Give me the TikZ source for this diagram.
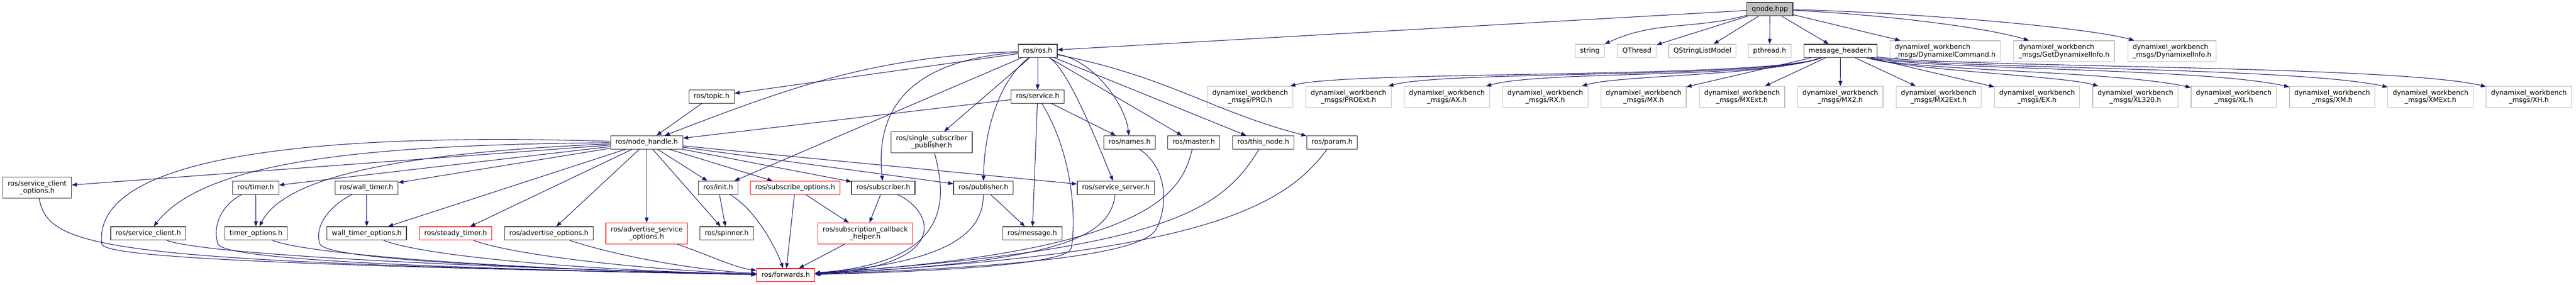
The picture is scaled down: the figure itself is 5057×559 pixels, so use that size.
\documentclass[tikz,border=0pt]{standalone}
\usepackage{fontspec}
\setmainfont{DejaVu Sans}
\usetikzlibrary{arrows.meta}
\definecolor{edgeblue}{HTML}{191970}
\definecolor{extgray}{HTML}{BFBFBF}
\begin{document}
\begin{tikzpicture}[x=1pt,y=1pt]
    \tikzstyle{file}=[rectangle, line width=1.2pt, inner xsep=9.5pt, inner ysep=0pt, minimum height=26pt, font=\fontsize{13.3pt}{14.6pt}\selectfont]
    \tikzstyle{oneline}=[text height=9.8pt, text depth=3.2pt]
    \tikzstyle{twoline}=[align=center, minimum height=41pt]
    \tikzstyle{doc}=[file, draw=black!80]
    \tikzstyle{ext}=[file, draw=extgray]
    \tikzstyle{trunc}=[file, draw=red]
    \tikzstyle{inc}=[draw=edgeblue, line width=1.1pt, -{Triangle[length=10pt,width=7.5pt]}]
    \useasboundingbox (0,0) rectangle (5057,559);

    % the file itself
    \node[doc,oneline,fill=extgray] (qnode) at (3474.5,541) {qnode.hpp};

    % direct includes
    \node[doc,oneline] (ros) at (2037,459) {ros/ros.h};
    \node[ext,oneline] (str) at (3121,459) {string};
    \node[ext,oneline] (qthr) at (3213.5,459) {QThread};
    \node[ext,oneline] (qslm) at (3342,459) {QStringListModel};
    \node[ext,oneline] (pthr) at (3474,459) {pthread.h};
    \node[doc,oneline] (mh) at (3613,459) {message\_header.h};
    \node[ext,twoline,align=left] (dcmd) at (3818.5,458.5) {dynamixel\_workbench\\\_msgs/DynamixelCommand.h};
    \node[ext,twoline,align=left] (gdi) at (4052,458.5) {dynamixel\_workbench\\\_msgs/GetDynamixelInfo.h};
    \node[ext,twoline,align=left] (dinfo) at (4264,458.5) {dynamixel\_workbench\\\_msgs/DynamixelInfo.h};

    % second level
    \node[doc,oneline] (topic) at (1397,369.5) {ros/topic.h};
    \node[doc,oneline] (srv) at (2037,369.5) {ros/service.h};
    \foreach \m [count=\i from 0] in {PRO,PROExt,AX,RX,MX,MXExt,MX2,MX2Ext,EX,XL320,XL,XM,XMExt,XH}
        \node[ext,twoline] (m\m) at ({2454.2+193.1*\i},369) {dynamixel\_workbench\\\_msgs/\m.h};

    % third level
    \node[doc,oneline] (nh) at (1269.5,279.5) {ros/node\_handle.h};
    \node[doc,twoline] (ssp) at (1829,280) {ros/single\_subscriber\\\_publisher.h};
    \node[doc,oneline] (names) at (2217.5,279.5) {ros/names.h};
    \node[doc,oneline] (master) at (2343.5,279.5) {ros/master.h};
    \node[doc,oneline] (thisnode) at (2480,279.5) {ros/this\_node.h};
    \node[doc,oneline] (param) at (2615,279.5) {ros/param.h};

    % fourth level
    \node[doc,twoline] (sco) at (73,191) {ros/service\_client\\\_options.h};
    \node[doc,oneline] (timer) at (502,190.5) {ros/timer.h};
    \node[doc,oneline] (wtimer) at (719.5,190.5) {ros/wall\_timer.h};
    \node[doc,oneline] (init) at (1410,190.5) {ros/init.h};
    \node[trunc,oneline] (subopt) at (1561,190.5) {ros/subscribe\_options.h};
    \node[doc,oneline] (sub) at (1734,190.5) {ros/subscriber.h};
    \node[doc,oneline] (pub) at (1930.5,190.5) {ros/publisher.h};
    \node[doc,oneline] (ssrv) at (2190.5,190.5) {ros/service\_server.h};

    % fifth level
    \node[doc,oneline] (sc) at (291,101) {ros/service\_client.h};
    \node[doc,oneline] (topt) at (502.5,101) {timer\_options.h};
    \node[doc,oneline] (wtopt) at (720,101) {wall\_timer\_options.h};
    \node[trunc,oneline] (stimer) at (894.5,101) {ros/steady\_timer.h};
    \node[doc,oneline] (aopt) at (1077.5,101) {ros/advertise\_options.h};
    \node[trunc,twoline] (asopt) at (1269.5,101) {ros/advertise\_service\\\_options.h};
    \node[doc,oneline] (spin) at (1426.5,101) {ros/spinner.h};
    \node[trunc,twoline] (sch) at (1698.5,101) {ros/subscription\_callback\\\_helper.h};
    \node[doc,oneline] (msg) at (2026.5,101) {ros/message.h};

    % bottom
    \node[trunc,oneline] (fwd) at (1542.5,19) {ros/forwards.h};

    % qnode.hpp
    \draw[inc] (qnode) -- (ros);
    \draw[inc] (qnode) .. controls (3321,500) and (3250,519) .. (str);
    \draw[inc] (qnode) -- (qthr);
    \draw[inc] (qnode) -- (qslm);
    \draw[inc] (qnode) -- (pthr);
    \draw[inc] (qnode) -- (mh);
    \draw[inc] (qnode) -- (dcmd);
    \draw[inc] (qnode) .. controls (3700,530) and (3900,505) .. (gdi);
    \draw[inc] (qnode) .. controls (3750,535) and (4100,505) .. (dinfo);

    % message_header.h
    \draw[inc] (mh) .. controls (3461,404) and (2648,421) .. (mPRO);
    \draw[inc] (mh) .. controls (3461,404) and (2840,421) .. (mPROExt);
    \draw[inc] (mh) .. controls (3461,404) and (3030,421) .. (mAX);
    \draw[inc] (mh) .. controls (3470,410) and (3180,412) .. (mRX);
    \foreach \m in {MX,MXExt,MX2,MX2Ext,EX}
        \draw[inc] (mh) -- (m\m);
    \draw[inc] (mh) .. controls (3760,420) and (4050,410) .. (mXL320);
    \draw[inc] (mh) .. controls (3760,420) and (4150,420) .. (mXL);
    \draw[inc] (mh) .. controls (3780,422) and (4330,426) .. (mXM);
    \draw[inc] (mh) .. controls (3800,424) and (4510,428) .. (mXMExt);
    \draw[inc] (mh) .. controls (3820,426) and (4700,432) .. (mXH);

    % ros/ros.h
    \draw[inc] (ros) -- (topic);
    \draw[inc] (ros) .. controls (1718.6,447.8) and (1564,392.7) .. (nh);
    \draw[inc] (ros) -- (init);
    \draw[inc] (ros) .. controls (1780,440) and (1718,340) .. (sub);
    \draw[inc] (ros) -- (ssp);
    \draw[inc] (ros) .. controls (1960,400) and (1932,300) .. (pub);
    \draw[inc] (ros) -- (srv);
    \draw[inc] (ros) .. controls (2095,425) and (2150,290) .. (ssrv);
    \draw[inc] (ros) .. controls (2150,440) and (2210,350) .. (names);
    \draw[inc] (ros) -- (master);
    \draw[inc] (ros) -- (thisnode);
    \draw[inc] (ros) .. controls (2290,410) and (2380,340) .. (param);

    % ros/service.h and ros/topic.h
    \draw[inc] (srv) -- (nh);
    \draw[inc] (srv) -- (names);
    \draw[inc] (srv) -- (msg);
    \draw[inc] (srv) .. controls (2110,250) and (2112,120) .. (2103,72) .. controls (2095,35) and (1750,24) .. (fwd);
    \draw[inc] (topic) -- (nh);
    \draw[inc] (ssp) .. controls (1855,180) and (1880,45) .. (fwd);

    % ros/node_handle.h
    \draw[inc] (nh) -- (sco);
    \draw[inc] (nh) .. controls (700,275) and (400,240) .. (sc);
    \draw[inc] (nh) -- (timer);
    \draw[inc] (nh) .. controls (800,260) and (560,215) .. (topt);
    \draw[inc] (nh) -- (wtimer);
    \draw[inc] (nh) -- (wtopt);
    \draw[inc] (nh) -- (stimer);
    \draw[inc] (nh) -- (aopt);
    \draw[inc] (nh) -- (asopt);
    \draw[inc] (nh) -- (spin);
    \draw[inc] (nh) -- (init);
    \draw[inc] (nh) -- (subopt);
    \draw[inc] (nh) -- (sub);
    \draw[inc] (nh) -- (pub);
    \draw[inc] (nh) -- (ssrv);
    \draw[inc] (nh) .. controls (600,300) and (180,250) .. (200,80) .. controls (205,60) and (400,40) .. (fwd);

    % fourth level
    \draw[inc] (timer) -- (topt);
    \draw[inc] (timer) .. controls (440,160) and (415,120) .. (428,80) .. controls (440,55) and (700,35) .. (fwd);
    \draw[inc] (wtimer) -- (wtopt);
    \draw[inc] (wtimer) .. controls (655,160) and (615,120) .. (628,80) .. controls (640,55) and (900,35) .. (fwd);
    \draw[inc] (init) -- (spin);
    \draw[inc] (init) .. controls (1480,150) and (1520,80) .. (fwd);
    \draw[inc] (subopt) -- (sch);
    \draw[inc] (subopt) -- (fwd);
    \draw[inc] (sub) -- (sch);
    \draw[inc] (sub) .. controls (1840,140) and (1860,35) .. (fwd);
    \draw[inc] (pub) -- (msg);
    \draw[inc] (pub) .. controls (1930,110) and (1880,45) .. (fwd);
    \draw[inc] (ssrv) .. controls (2180,100) and (2100,45) .. (fwd);
    \draw[inc] (sco) .. controls (95,70) and (200,45) .. (fwd);

    % fifth level
    \draw[inc] (sc) .. controls (400,60) and (900,35) .. (fwd);
    \draw[inc] (topt) .. controls (600,60) and (1000,30) .. (fwd);
    \draw[inc] (wtopt) .. controls (820,60) and (1100,30) .. (fwd);
    \draw[inc] (stimer) .. controls (1000,60) and (1250,30) .. (fwd);
    \draw[inc] (aopt) .. controls (1200,60) and (1350,30) .. (fwd);
    \draw[inc] (asopt) .. controls (1400,55) and (1440,35) .. (fwd);
    \draw[inc] (sch) -- (fwd);

    % third level into forwards
    \draw[inc] (names) .. controls (2290,230) and (2295,160) .. (2270,110) .. controls (2245,60) and (2000,35) .. (fwd);
    \draw[inc] (master) .. controls (2320,180) and (2260,65) .. (fwd);
    \draw[inc] (thisnode) .. controls (2400,150) and (2300,70) .. (fwd);
    \draw[inc] (param) .. controls (2520,150) and (2350,60) .. (fwd);
\end{tikzpicture}
\end{document}
